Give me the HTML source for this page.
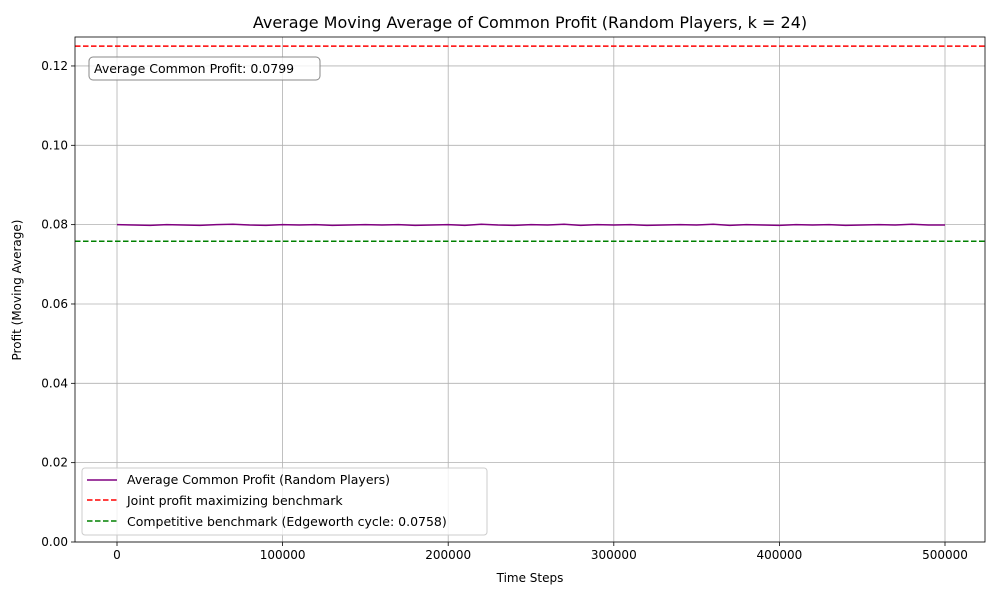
<!DOCTYPE html>
<html><head><meta charset="utf-8"><style>
body{margin:0;background:#fff;font-family:"Liberation Sans","DejaVu Sans",sans-serif;}
svg text{font-family:"DejaVu Sans","Liberation Sans",sans-serif;}
</style></head><body>
<svg id="chart" width="1000" height="600" xmlns="http://www.w3.org/2000/svg"></svg>
<script>
const xTicks=[0,100000,200000,300000,400000,500000];
const yTicks=[0.00,0.02,0.04,0.06,0.08,0.10,0.12];
const jointBenchmark=0.125;
const competitiveBenchmark=0.0758;
const seriesX=[0,10000,20000,30000,40000,50000,60000,70000,80000,90000,100000,110000,120000,130000,140000,150000,160000,170000,180000,190000,200000,210000,220000,230000,240000,250000,260000,270000,280000,290000,300000,310000,320000,330000,340000,350000,360000,370000,380000,390000,400000,410000,420000,430000,440000,450000,460000,470000,480000,490000,500000];
const seriesY=[0.0800,0.0799,0.0798,0.0800,0.0799,0.0798,0.0800,0.0801,0.0799,0.0798,0.0800,0.0799,0.0800,0.0798,0.0799,0.0800,0.0799,0.0800,0.0798,0.0799,0.0800,0.0798,0.0801,0.0799,0.0798,0.0800,0.0799,0.0801,0.0798,0.0800,0.0799,0.0800,0.0798,0.0799,0.0800,0.0799,0.0801,0.0798,0.0800,0.0799,0.0798,0.0800,0.0799,0.0800,0.0798,0.0799,0.0800,0.0799,0.0801,0.0799,0.0799];
const L=75,R=985,T=37,B=542,xMin=-25364,xMax=524155,yMin=0,yMax=0.1273;
const sx=v=>L+(v-xMin)/(xMax-xMin)*(R-L);
const sy=v=>B-(v-yMin)/(yMax-yMin)*(B-T);
const svg=document.getElementById('chart');
const NS='http://www.w3.org/2000/svg';
function mk(tag,attrs,parent){const e=document.createElementNS(NS,tag);for(const k in attrs)e.setAttribute(k,attrs[k]);(parent||svg).appendChild(e);return e;}
function txt(s,attrs){const e=mk('text',attrs);e.textContent=s;return e;}
xTicks.forEach(v=>{const l=mk('line',{x1:sx(v),x2:sx(v),y1:T,y2:B,stroke:'#b0b0b0','stroke-width':0.8});


const tk=mk('line',{x1:sx(v),x2:sx(v),y1:B,y2:B+4,stroke:'#000','stroke-width':0.8});


const t=txt(String(v),{x:sx(v),y:B+17,'text-anchor':'middle','font-size':12});

});
yTicks.forEach(v=>{const l=mk('line',{x1:L,x2:R,y1:sy(v),y2:sy(v),stroke:'#b0b0b0','stroke-width':0.8});


const tk=mk('line',{x1:L-4,x2:L,y1:sy(v),y2:sy(v),stroke:'#000','stroke-width':0.8});


const t=txt(v.toFixed(2),{x:L-7,y:sy(v)+4,'text-anchor':'end','font-size':12});

});
let d='';seriesX.forEach((x,i)=>{d+=(i?'L':'M')+sx(x).toFixed(1)+','+sy(seriesY[i]).toFixed(2);});
const p=mk('path',{d:d,fill:'none',stroke:'purple','stroke-width':1.5});


const j=mk('line',{x1:L,x2:R,y1:sy(jointBenchmark),y2:sy(jointBenchmark),stroke:'red','stroke-width':1.5,'stroke-dasharray':'5.5,2.5'});


const c=mk('line',{x1:L,x2:R,y1:sy(competitiveBenchmark),y2:sy(competitiveBenchmark),stroke:'green','stroke-width':1.5,'stroke-dasharray':'5.5,2.5'});


const f=mk('rect',{x:L,y:T,width:R-L,height:B-T,fill:'none',stroke:'#000','stroke-width':0.8});


</script>
<svg width="1000" height="600" style="position:absolute;left:0;top:0" xmlns="http://www.w3.org/2000/svg">
<text x="530" y="28" text-anchor="middle" font-size="16">Average Moving Average of Common Profit (Random Players, k = 24)</text>
<text x="530" y="582" text-anchor="middle" font-size="12">Time Steps</text>
<text x="21" y="290" text-anchor="middle" font-size="12" transform="rotate(-90 21 290)">Profit (Moving Average)</text>
<g>
<rect x="89" y="57" width="231" height="23" rx="4" fill="#fff" fill-opacity="0.8" stroke="#888"/>
<text x="94" y="73" font-size="12.5">Average Common Profit: 0.0799</text>
</g>
<g>
<rect x="82" y="468" width="405" height="67" rx="3" fill="#fff" fill-opacity="0.8" stroke="#ccc"/>
<line x1="87" x2="117" y1="480" y2="480" stroke="purple" stroke-width="1.5"/>
<text x="127" y="484" font-size="12.5">Average Common Profit (Random Players)</text>
<line x1="87" x2="117" y1="500" y2="500" stroke="red" stroke-width="1.5" stroke-dasharray="5.5,2.5"/>
<text x="127" y="505" font-size="12.5">Joint profit maximizing benchmark</text>
<line x1="87" x2="117" y1="521" y2="521" stroke="green" stroke-width="1.5" stroke-dasharray="5.5,2.5"/>
<text x="127" y="526" font-size="12.5">Competitive benchmark (Edgeworth cycle: 0.0758)</text>
</g>
</svg>
</body></html>
